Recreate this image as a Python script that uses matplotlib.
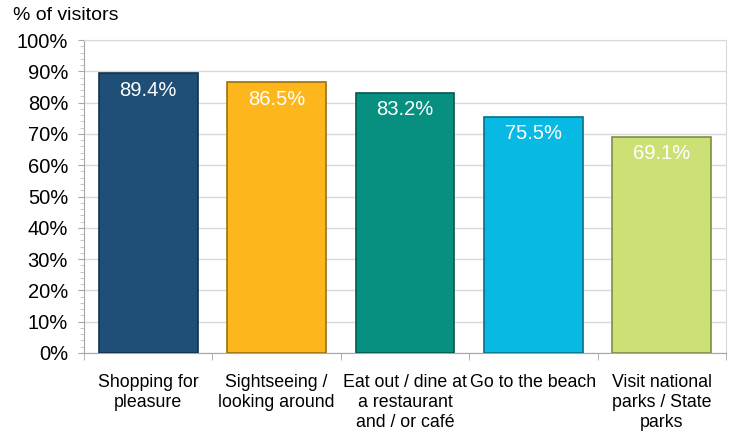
import matplotlib
matplotlib.use("Agg")
import matplotlib.pyplot as plt
from matplotlib.ticker import MultipleLocator, FuncFormatter
import numpy as np

categories = ["Shopping for\npleasure", "Sightseeing /\nlooking around",
              "Eat out / dine at\na restaurant\nand / or café", "Go to the beach",
              "Visit national\nparks / State\nparks"]
values = [89.4, 86.5, 83.2, 75.5, 69.1]
colors = ["#1F4E77", "#FDB71C", "#07907F", "#07B9E3", "#CBE176"]
edges = ["#12314C", "#9C7010", "#04584E", "#05708A", "#7E8C48"]

plt.rcParams['font.family'] = ['Liberation Sans', 'DejaVu Sans']

fig = plt.figure(figsize=(7.32, 4.32), dpi=100)
ax = fig.add_axes([84/732, 1-353/432, (726-84)/732, (353-40)/432])

x = np.arange(len(values))
ax.bar(x, values, width=0.77, color=colors, edgecolor=edges, linewidth=1.2, zorder=3)

for xi, v in zip(x, values):
    ax.annotate(f"{v:.1f}%", xy=(xi, v), xytext=(0, -17), textcoords='offset pixels',
                ha='center', va='center', color='white', fontsize=14.5, zorder=4)

ax.set_xlim(-0.5, len(values) - 0.5)
ax.set_ylim(0, 100)
ax.yaxis.set_major_locator(MultipleLocator(10))
ax.yaxis.set_minor_locator(MultipleLocator(2))
ax.yaxis.set_major_formatter(FuncFormatter(lambda v, p: f"{v:.0f}%"))
ax.grid(axis='y', which='major', color='#D9D9D9', linewidth=1, zorder=0)

ax.set_xticks(x)
ax.set_xticklabels(categories, fontsize=12.8, linespacing=1.22)
ax.set_xticks(np.arange(len(values) + 1) - 0.5, minor=True)
ax.tick_params(axis='x', which='major', length=0, pad=15)
ax.tick_params(axis='x', which='minor', length=5, color='#A6A6A6', direction='out')
ax.tick_params(axis='y', which='major', length=4, color='#A6A6A6', labelsize=14.5, pad=7.5)
ax.tick_params(axis='y', which='minor', length=3, color='#BFBFBF')

for s in ['left', 'bottom']:
    ax.spines[s].set_color('#A6A6A6')
for s in ['top', 'right']:
    ax.spines[s].set_color('#D9D9D9')

fig.text(13/732, 1-15/432, "% of visitors", ha='left', va='center', fontsize=14)

fig.savefig("out.png", dpi=100)
